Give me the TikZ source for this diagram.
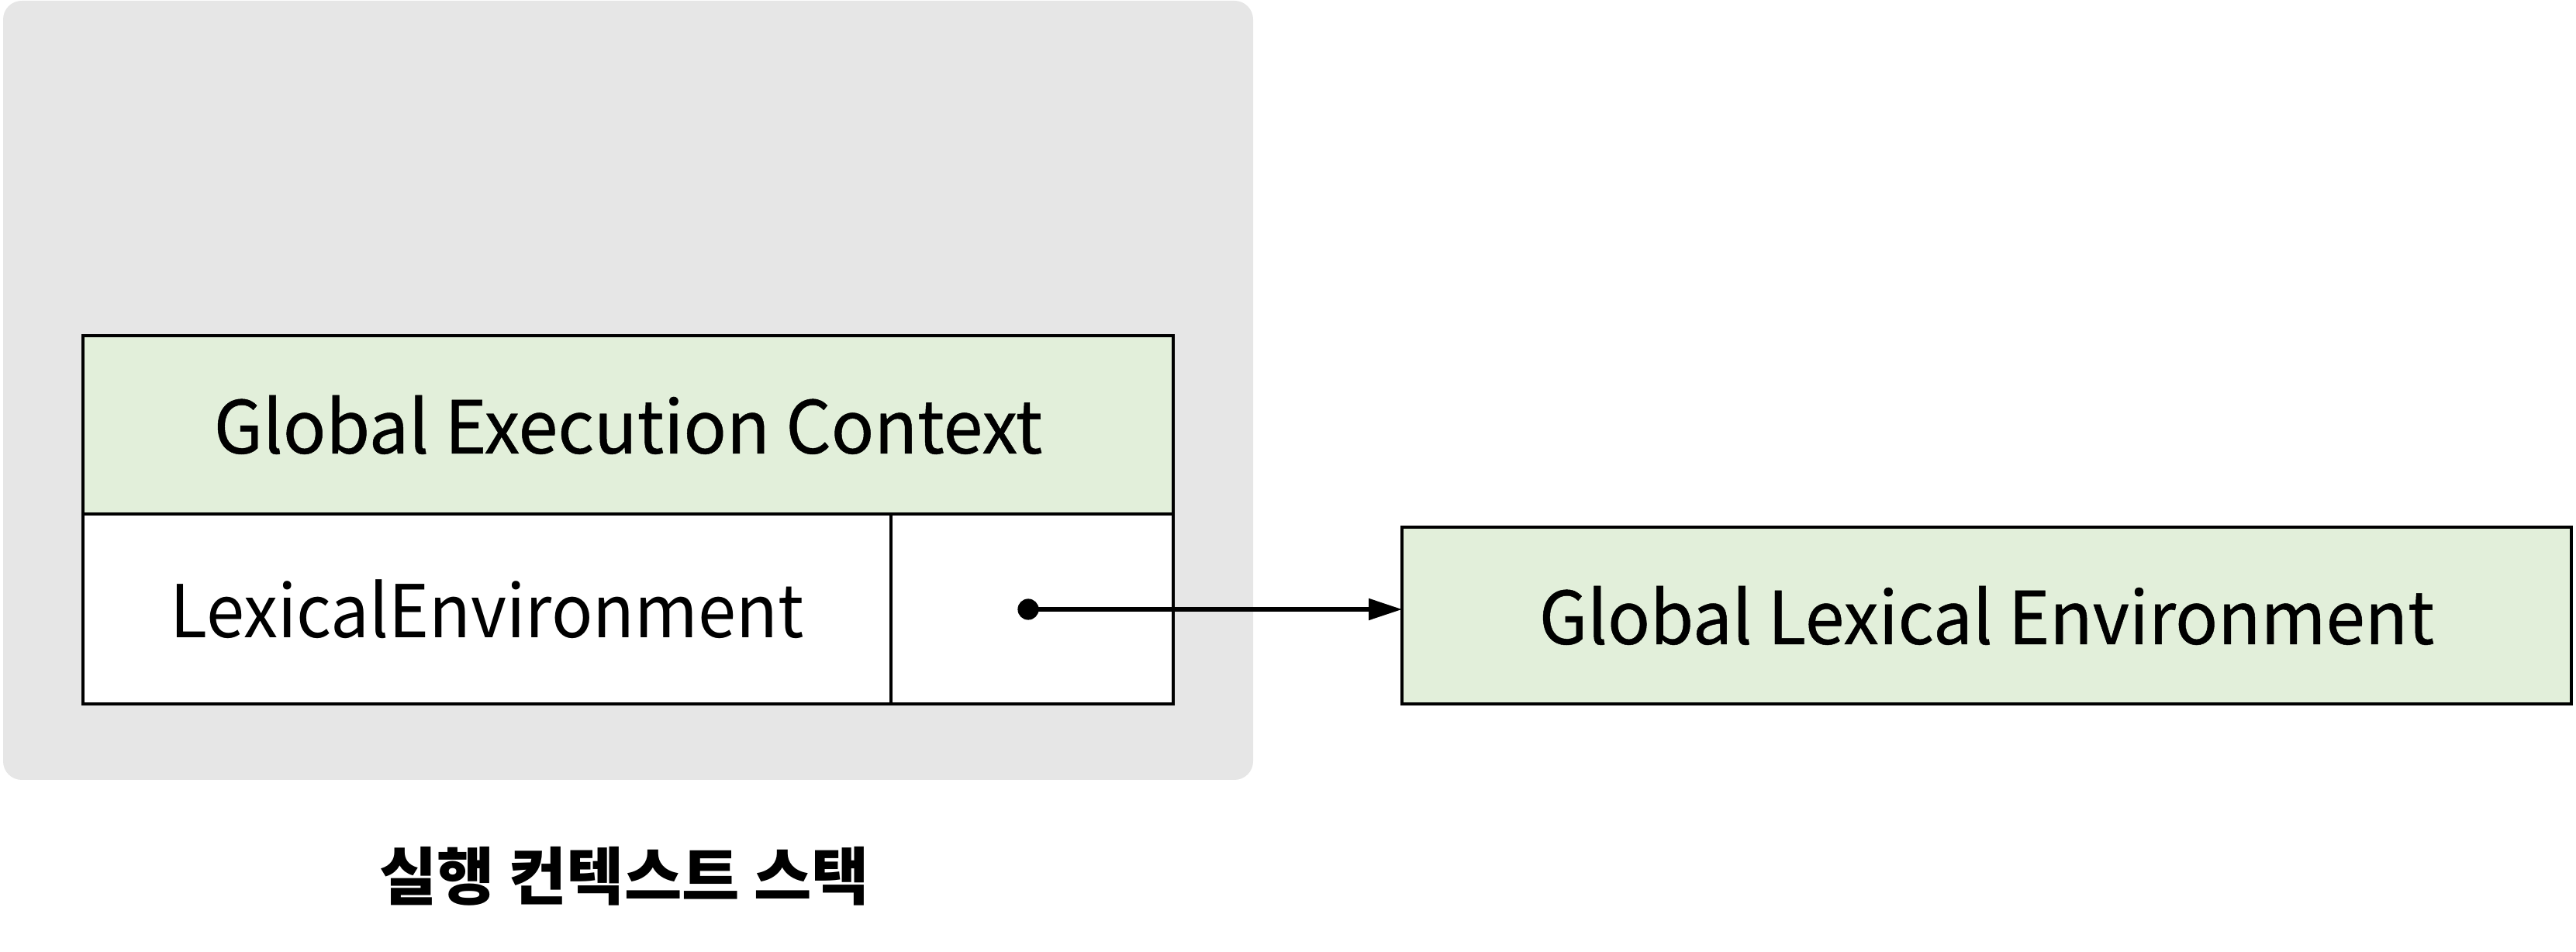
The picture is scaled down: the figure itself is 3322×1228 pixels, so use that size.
\documentclass[tikz,border=0pt]{standalone}
\usepackage{fontspec}
\setmainfont{Noto Sans CJK KR}
\newfontfamily\titlefont[FakeStretch=0.975, FakeBold=0.5]{Noto Sans CJK KR}
\newfontfamily\glefont[FakeStretch=0.965, FakeBold=0.5]{Noto Sans CJK KR}
\newfontfamily\lexfont[FakeStretch=0.94]{Noto Sans CJK KR}
\newfontfamily\capfont{Noto Sans CJK KR}
\usetikzlibrary{arrows.meta}
\definecolor{stackgray}{HTML}{E6E6E6}
\definecolor{ctxgreen}{HTML}{E2EFDA}
\tikzset{
  cell/.style={draw=black, line width=1pt, inner sep=0pt, outer sep=0pt},
  title/.style={font=\titlefont\fontsize{23.5}{28}\selectfont},
  gletext/.style={font=\glefont\fontsize{23.5}{28}\selectfont},
  lex/.style={font=\lexfont\fontsize{23.5}{28}\selectfont},
  caption/.style={font=\capfont\fontsize{20.2}{24}\selectfont\bfseries},
}
\begin{document}
\begin{tikzpicture}[x=0.25pt,y=-0.25pt]
\useasboundingbox (0,0) rectangle (3322,1228);
\fill[stackgray, rounded corners=6pt] (4,1) rectangle (1616,1006);
\node[cell, fill=ctxgreen, minimum width=351.5pt, minimum height=57.5pt, title] (gec) at (810,548) {Global Execution Context};
\node[cell, fill=white, minimum width=260.5pt, minimum height=61.25pt, lex] (lexname) at (628,785.5) {LexicalEnvironment};
\node[cell, fill=white, minimum width=91pt, minimum height=61.25pt] (lexval) at (1331,785.5) {};
\node[cell, fill=ctxgreen, minimum width=377pt, minimum height=57pt, gletext] (gle) at (2562,794) {Global Lexical Environment};
\fill (1326,786) circle (3.4pt) coordinate (dot);
\draw[line width=1.3pt, -{Triangle[length=10.75pt,width=6.75pt]}] (dot) -- (dot -| gle.west);
\node[caption] (stack) at (805,1130) {실행 컨텍스트 스택};
\end{tikzpicture}
\end{document}
